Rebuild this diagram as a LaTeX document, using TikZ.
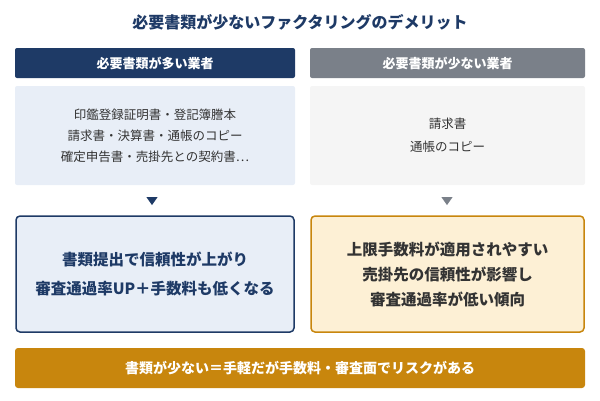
\documentclass[tikz,border=0pt]{standalone}
\usepackage{fontspec}
\setmainfont{Noto Sans CJK JP}
\usetikzlibrary{shapes.geometric}
\definecolor{navy}{HTML}{1E3A66}
\definecolor{grayh}{HTML}{7A8089}
\definecolor{lblue}{HTML}{E8EEF7}
\definecolor{lgray}{HTML}{F5F5F5}
\definecolor{gold}{HTML}{C8860D}
\definecolor{cream}{HTML}{FDF0D5}
\definecolor{txt}{HTML}{333333}
\tikzset{
 hdr/.style={rounded corners=2pt,minimum height=30pt,text=white,font=\fontsize{13}{15}\selectfont\bfseries},
 lst/.style={rounded corners=2pt,minimum height=99pt,align=center,text=txt,font=\fontsize{12.5}{21}\selectfont},
 big/.style={rounded corners=4pt,line width=1.5pt,minimum height=116pt,align=center,font=\fontsize{15.5}{29}\selectfont\bfseries},
 tri/.style={isosceles triangle,shape border rotate=-90,isosceles triangle apex angle=70,inner sep=0pt,minimum width=10pt,minimum height=8pt}
}
\begin{document}
\begin{tikzpicture}[x=1pt,y=-1pt]
\useasboundingbox (0,0) rectangle (600,400);
\node[font=\fontsize{16}{18}\selectfont\bfseries,text=navy] (title) at (300,22) {必要書類が少ないファクタリングのデメリット};
\node[hdr,fill=navy,minimum width=280pt] (lh) at (155,63) {必要書類が多い業者};
\node[hdr,fill=grayh,minimum width=275pt] (rh) at (447.5,63) {必要書類が少ない業者};
\node[lst,fill=lblue,minimum width=280pt] (ll) at (155,135.5) {印鑑登録証明書・登記簿謄本\\請求書・決算書・通帳のコピー\\確定申告書・売掛先との契約書…};
\node[lst,fill=lgray,minimum width=275pt,font=\fontsize{12.5}{23}\selectfont] (rl) at (447.5,135.5) {請求書\\通帳のコピー};
\node[tri,fill=navy] (lt) at (152,200) {};
\node[tri,fill=grayh] (rt) at (447,200) {};
\node[big,draw=navy,fill=lblue,text=navy,minimum width=278pt] (lb) at (155,274) {書類提出で信頼性が上がり\\審査通過率UP＋手数料も低くなる};
\node[big,draw=gold,fill=cream,text=txt,minimum width=273pt,font=\fontsize{15.5}{25}\selectfont\bfseries] (rb) at (447.5,274) {上限手数料が適用されやすい\\売掛先の信頼性が影響し\\審査通過率が低い傾向};
\node[rounded corners=3pt,fill=gold,text=white,minimum width=570pt,minimum height=40pt,font=\fontsize{14}{16}\selectfont\bfseries] (bn) at (300,368) {書類が少ない＝手軽だが手数料・審査面でリスクがある};
\end{tikzpicture}
\end{document}
